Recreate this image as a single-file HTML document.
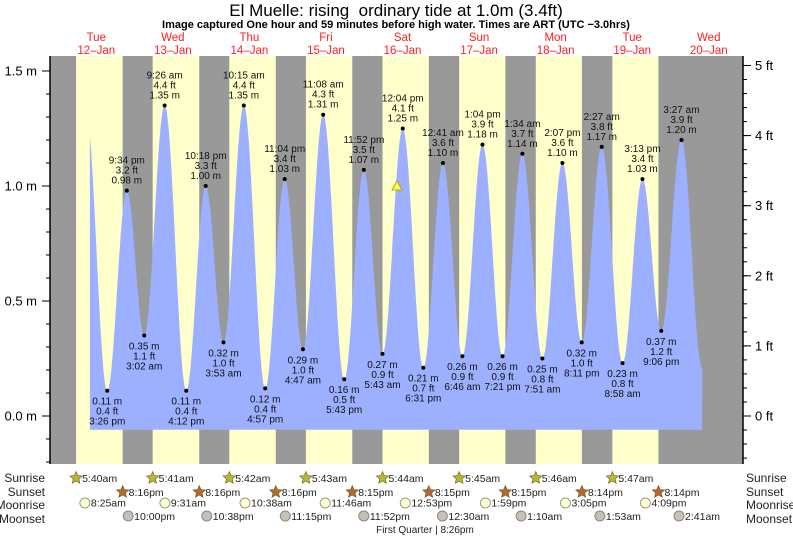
<!DOCTYPE html>
<html><head><meta charset="utf-8"><style>
body{margin:0;background:#fff;}
svg{display:block;font-family:"Liberation Sans",sans-serif;}
</style></head><body>
<svg id="c" width="793" height="538" xmlns="http://www.w3.org/2000/svg"></svg>
<script>
const dayNames=["Tue","Wed","Thu","Fri","Sat","Sun","Mon","Tue","Wed"];
const dayDates=["12–Jan","13–Jan","14–Jan","15–Jan","16–Jan","17–Jan","18–Jan","19–Jan","20–Jan"];
const sunriseH=[5.67,5.68,5.70,5.72,5.73,5.75,5.77,5.78];
const sunriseTxt=["5:40am","5:41am","5:42am","5:43am","5:44am","5:45am","5:46am","5:47am"];
const sunsetH=[20.27,20.27,20.27,20.25,20.25,20.25,20.23,20.23];
const sunsetTxt=["8:16pm","8:16pm","8:16pm","8:15pm","8:15pm","8:15pm","8:14pm","8:14pm"];
const moonriseH=[8.42,33.52,58.63,83.77,108.88,133.98,159.08,184.15];
const moonriseTxt=["8:25am","9:31am","10:38am","11:46am","12:53pm","1:59pm","3:05pm","4:09pm"];
const moonsetH=[22.0,46.63,71.25,95.87,120.5,145.17,169.88,194.68];
const moonsetTxt=["10:00pm","10:38pm","11:15pm","11:52pm","12:30am","1:10am","1:53am","2:41am"];
const tideH=[8.7,15.43,21.57,27.03,33.43,40.2,46.3,51.88,58.25,64.95,71.07,76.78,83.13,89.72,95.87,101.72,108.07,114.52,120.68,126.77,133.07,139.35,145.57,151.85,158.12,164.18,170.45,176.97,183.22,189.1,195.45,201.9];
const tideM=[1.33,0.11,0.98,0.35,1.35,0.11,1.00,0.32,1.35,0.12,1.03,0.29,1.31,0.16,1.07,0.27,1.25,0.21,1.10,0.26,1.18,0.26,1.14,0.25,1.10,0.32,1.17,0.23,1.03,0.37,1.20,0.21];
const tideFt=["","0.4","3.2","1.1","4.4","0.4","3.3","1.0","4.4","0.4","3.4","1.0","4.3","0.5","3.5","0.9","4.1","0.7","3.6","0.9","3.9","0.9","3.7","0.8","3.6","1.0","3.8","0.8","3.4","1.2","3.9",""];
const tideTxt=["","3:26 pm","9:34 pm","3:02 am","9:26 am","4:12 pm","10:18 pm","3:53 am","10:15 am","4:57 pm","11:04 pm","4:47 am","11:08 am","5:43 pm","11:52 pm","5:43 am","12:04 pm","6:31 pm","12:41 am","6:46 am","1:04 pm","7:21 pm","1:34 am","7:51 am","2:07 pm","8:11 pm","2:27 am","8:58 am","3:13 pm","9:06 pm","3:27 am",""];
const mTicks=[0.0,0.5,1.0,1.5];
const ftTicks=[0,1,2,3,4,5];

const X0=58,PXH=3.19,PL=50,PR=743,PT=56,PB=464;
const x=h=>X0+h*PXH;
const y=m=>416-m*230;
const NS="http://www.w3.org/2000/svg";
const svg=document.getElementById('c');
function el(t,a,txt){const e=document.createElementNS(NS,t);for(const k in a)e.setAttribute(k,a[k]);if(txt!==undefined)e.textContent=txt;svg.appendChild(e);return e;}

let bg=el('rect',{x:PL,y:PT,width:PR-PL,height:PB-PT,fill:'#999'});


for(let d=0;d<sunriseH.length;d++){
  const r=el('rect',{x:x(d*24+sunriseH[d]),y:PT,width:x(d*24+sunsetH[d])-x(d*24+sunriseH[d]),height:PB-PT,fill:'#ffffcc'});
  
  
}
const h0=10.0,h1=201.9,base=-0.06;
let pts=[];
for(let h=h0;h<=h1+0.001;h+=0.1){
  let i=0;while(i<tideH.length-2&&tideH[i+1]<h)i++;
  const a=tideH[i],b=tideH[i+1],t=(h-a)/(b-a);
  const v=tideM[i]+(tideM[i+1]-tideM[i])*(1-Math.cos(Math.PI*t))/2;
  pts.push(x(h).toFixed(1)+','+y(v).toFixed(1));
}
let d='M'+x(h0)+','+y(base)+' L'+pts.join(' L')+' L'+x(h1)+','+y(base)+' Z';
const area=el('path',{d:d,fill:'#9db0ff'});


for(let i=1;i<tideH.length-1;i++){
  const px=x(tideH[i]),py=y(tideM[i]);
  const dot=el('circle',{cx:px,cy:py,r:2,fill:'#000'});
  
  
  const high=tideM[i]>tideM[i-1];
  const lines=high?[tideTxt[i],tideFt[i]+' ft',tideM[i].toFixed(2)+' m']:[tideM[i].toFixed(2)+' m',tideFt[i]+' ft',tideTxt[i]];
  lines.forEach((s,k)=>{
    const ty=high?py-27+k*10:py+14+k*10;
    const t=el('text',{x:px,y:ty,'font-size':10,'text-anchor':'middle',fill:'#111'},s);
    
    
  });
}
const tri=el('polygon',{points:'397,181 392,190 402,190',fill:'#ffff44',stroke:'#aa9900','stroke-width':0.8});


el('line',{x1:PL,y1:PT,x2:PL,y2:PB,stroke:'#000','stroke-width':1.5});
el('line',{x1:PR,y1:PT,x2:PR,y2:PB,stroke:'#000','stroke-width':1.5});
for(let m=-0.2;m<=1.65;m+=0.1){const yy=y(m);if(yy<PT||yy>PB)continue;el('line',{x1:PL-4,y1:yy,x2:PL,y2:yy,stroke:'#000'});}
mTicks.forEach(m=>{el('line',{x1:PL-8,y1:y(m),x2:PL,y2:y(m),stroke:'#000'});
  const t=el('text',{x:PL-13,y:y(m)+4.5,'font-size':13,'text-anchor':'end'},m.toFixed(1)+' m');
  
  });
for(let f=-1.6;f<=5.4;f+=0.2){const yy=y(f*0.3048);if(yy<PT||yy>PB)continue;el('line',{x1:PR,y1:yy,x2:PR+4,y2:yy,stroke:'#000'});}
ftTicks.forEach(f=>{const yy=y(f*0.3048);el('line',{x1:PR,y1:yy,x2:PR+8,y2:yy,stroke:'#000'});
  const t=el('text',{x:PR+12,y:yy+4.5,'font-size':13},f+' ft');
  
  });
let t=el('text',{x:396,y:16,'font-size':17,'text-anchor':'middle',style:'white-space:pre'},'El Muelle: rising  ordinary tide at 1.0m (3.4ft)');

t=el('text',{x:396,y:28,'font-size':11,'font-weight':'bold','text-anchor':'middle'},'Image captured One hour and 59 minutes before high water. Times are ART (UTC −3.0hrs)');

dayNames.forEach((n,i)=>{const cx=x(i*24+12);
  let a=el('text',{x:cx,y:41,'font-size':11.5,'text-anchor':'middle',fill:'#ff2020'},n);
  
  a=el('text',{x:cx,y:54,'font-size':11.5,'text-anchor':'middle',fill:'#ff2020'},dayDates[i]);
  });
const rows=[['Sunrise',478],['Sunset',492],['Moonrise',505],['Moonset',519]];
rows.forEach(r=>{
  let a=el('text',{x:45,y:r[1]+4,'font-size':12,'text-anchor':'end',fill:'#222'},r[0]);
  
  a=el('text',{x:746,y:r[1]+4,'font-size':12,fill:'#222'},r[0]);
  });
function star(cx,cy,fill){let p=[];for(let k=0;k<10;k++){const r=k%2?3:6.5,an=-Math.PI/2+k*Math.PI/5;p.push((cx+r*Math.cos(an)).toFixed(1)+','+(cy+r*Math.sin(an)).toFixed(1));}
  return el('polygon',{points:p.join(' '),fill:fill,stroke:'#775522','stroke-width':0.6});}
for(let i=0;i<8;i++){
  let cx=x(i*24+sunriseH[i]);let s=star(cx,478,'#b8b830');
  
  let a=el('text',{x:cx+6,y:482,'font-size':10.5,fill:'#222'},sunriseTxt[i]);
  
  cx=x(i*24+sunsetH[i]);s=star(cx,492,'#b06a30');
  
  a=el('text',{x:cx+6,y:496,'font-size':10.5,fill:'#222'},sunsetTxt[i]);
  
  cx=x(moonriseH[i]);let c=el('circle',{cx:cx,cy:503,r:5,fill:'#ffffcc',stroke:'#999'});
  
  a=el('text',{x:cx+6,y:506.5,'font-size':10.5,fill:'#222'},moonriseTxt[i]);
  
  cx=x(moonsetH[i]);c=el('circle',{cx:cx,cy:516,r:5,fill:'#c8c0b8',stroke:'#888'});
  
  a=el('text',{x:cx+6,y:520,'font-size':10.5,fill:'#222'},moonsetTxt[i]);
  
}
t=el('text',{x:425,y:533,'font-size':10,'text-anchor':'middle',fill:'#222'},'First Quarter | 8:26pm');

</script>
</body></html>
